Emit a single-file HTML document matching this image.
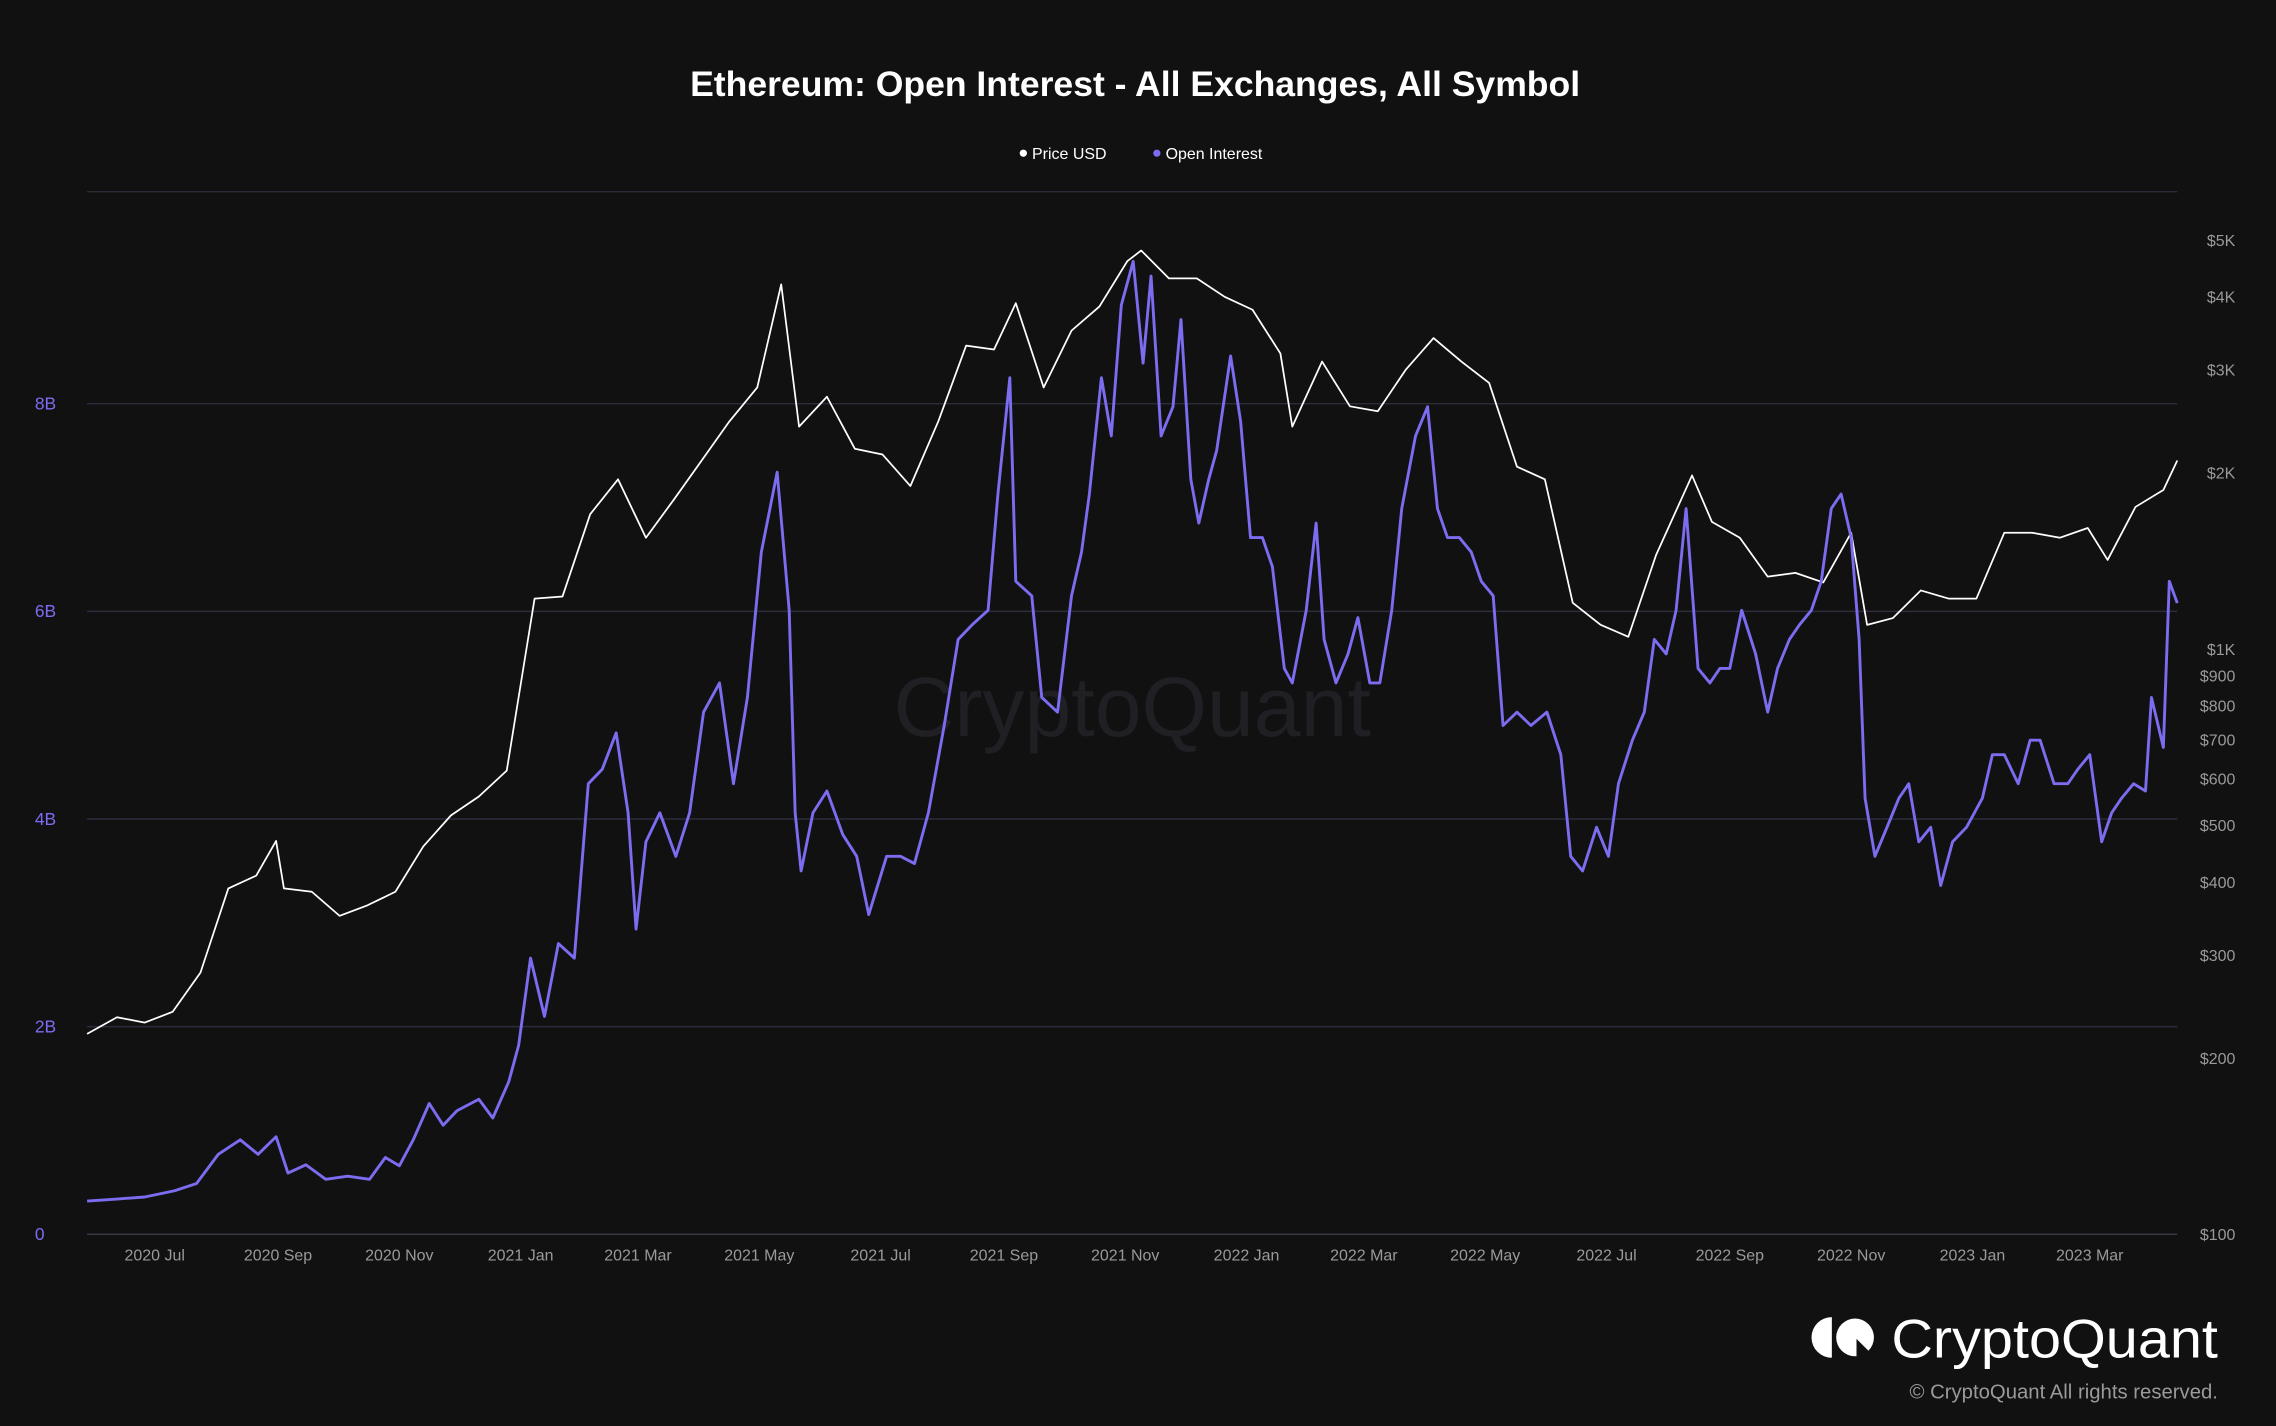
<!DOCTYPE html>
<html><head><meta charset="utf-8">
<style>
html,body{margin:0;padding:0;background:#111111;}
svg{display:block;}
text{font-family:"Liberation Sans",Arial,sans-serif;}
</style></head>
<body>
<svg id="chart" width="2276" height="1426" viewBox="0 0 1568 982" preserveAspectRatio="none" xmlns="http://www.w3.org/2000/svg">
<rect width="1568" height="982" fill="#111111"/>
<text x="782" y="66" text-anchor="middle" font-size="24.5" font-weight="bold" fill="#ffffff">Ethereum: Open Interest - All Exchanges, All Symbol</text>
<g>
  <g><circle cx="705" cy="105.5" r="2.5" fill="#ffffff"/><text x="711" y="109.5" font-size="11" fill="#ffffff">Price USD</text></g>
  <g><circle cx="797" cy="105.5" r="2.5" fill="#7b6cf0"/><text x="803" y="109.5" font-size="11" fill="#ffffff">Open Interest</text></g>
</g>
<text x="780" y="507" text-anchor="middle" font-size="58" fill="#1f1f24">CryptoQuant</text>
<g id="grid"></g>
<g id="axes"></g>
<g id="series"></g>
<g>
  <path d="M1262 907 A14 14 0 0 0 1262 935 Z" fill="#ffffff"/>
  <circle cx="1278" cy="921" r="13" fill="#ffffff"/>
  <path d="M1279 922 L1291 934 L1279 934 Z" fill="#111111"/>
  <text x="1303" y="935" font-size="38" textLength="225" lengthAdjust="spacingAndGlyphs" fill="#ffffff">CryptoQuant</text>
  <text x="1528" y="963" text-anchor="end" font-size="14" fill="#9a9a9a">© CryptoQuant All rights reserved.</text>
</g>
</svg>
<script>
// Days since 2020-05-28
const priceDays = [0,15,29,43,57,71,85,95,99,113,127,141,155,169,183,197,211,225,239,253,267,281,295,309,323,337,349,358,372,386,400,414,428,442,456,467,481,495,509,523,530,544,558,572,586,600,606,621,635,649,663,677,691,705,719,733,747,761,775,789,807,817,831,845,859,873,887,895,908,922,936,950,964,978,992,1006,1016,1030,1044,1051];
const priceValues = [220,235,230,240,280,390,410,470,390,385,350,365,385,460,520,560,620,1220,1230,1700,1950,1550,1800,2100,2450,2800,4200,2400,2700,2200,2150,1900,2450,3300,3250,3900,2800,3500,3850,4600,4800,4300,4300,4000,3800,3200,2400,3100,2600,2550,3000,3400,3100,2850,2050,1950,1200,1100,1050,1450,1980,1650,1550,1330,1350,1300,1580,1100,1130,1260,1220,1220,1580,1580,1550,1610,1420,1750,1870,2100];
const oiDays = [0,15,29,44,55,66,77,86,95,101,110,120,131,142,150,157,164,172,179,186,197,204,212,217,223,230,237,245,252,259,266,272,276,281,288,296,303,310,318,325,332,339,347,353,356,359,365,372,380,387,393,402,409,416,423,431,438,445,453,458,464,467,475,480,488,495,500,504,510,515,520,526,531,535,540,546,550,555,559,564,568,575,580,585,591,596,602,606,613,618,622,628,634,639,645,650,656,661,668,674,679,684,690,696,701,707,712,719,726,734,741,746,752,759,765,770,777,783,788,794,799,804,810,816,821,826,832,839,845,850,856,861,867,872,877,882,887,891,894,899,905,911,916,921,927,932,938,945,953,958,964,971,977,982,989,996,1001,1007,1013,1018,1023,1029,1035,1038,1044,1047,1051];
const oiValues = [0.32,0.34,0.36,0.42,0.49,0.77,0.91,0.77,0.94,0.59,0.67,0.53,0.56,0.53,0.74,0.66,0.91,1.26,1.05,1.19,1.30,1.12,1.47,1.82,2.66,2.10,2.80,2.66,4.34,4.48,4.83,4.06,2.94,3.78,4.06,3.64,4.06,5.03,5.31,4.34,5.17,6.57,7.34,6.01,4.06,3.50,4.06,4.27,3.85,3.64,3.08,3.64,3.64,3.57,4.06,4.90,5.73,5.87,6.01,7.13,8.25,6.29,6.15,5.17,5.03,6.15,6.57,7.13,8.25,7.69,8.95,9.37,8.39,9.23,7.69,7.97,8.81,7.27,6.85,7.27,7.55,8.46,7.83,6.71,6.71,6.43,5.45,5.31,6.01,6.85,5.73,5.31,5.59,5.94,5.31,5.31,6.01,6.99,7.69,7.97,6.99,6.71,6.71,6.57,6.29,6.15,4.90,5.03,4.90,5.03,4.62,3.64,3.50,3.92,3.64,4.34,4.76,5.03,5.73,5.59,6.01,6.99,5.45,5.31,5.45,5.45,6.01,5.59,5.03,5.45,5.73,5.87,6.01,6.29,6.99,7.13,6.71,5.73,4.20,3.64,3.92,4.20,4.34,3.78,3.92,3.36,3.78,3.92,4.20,4.62,4.62,4.34,4.76,4.76,4.34,4.34,4.48,4.62,3.78,4.06,4.20,4.34,4.27,5.17,4.69,6.29,6.08];
const oiTicks = [0,2,4,6,8];
const oiTickLabels = ["0","2B","4B","6B","8B"];
const priceTicks = [100,200,300,400,500,600,700,800,900,1000,2000,3000,4000,5000];
const priceTickLabels = ["$100","$200","$300","$400","$500","$600","$700","$800","$900","$1K","$2K","$3K","$4K","$5K"];
const xTickDays = [34,96,157,218,277,338,399,461,522,583,642,703,764,826,887,948,1007];
const xTickLabels = ["2020 Jul","2020 Sep","2020 Nov","2021 Jan","2021 Mar","2021 May","2021 Jul","2021 Sep","2021 Nov","2022 Jan","2022 Mar","2022 May","2022 Jul","2022 Sep","2022 Nov","2023 Jan","2023 Mar"];

const NS="http://www.w3.org/2000/svg";
const L=60,R=1500,B=850,T=132;
const xs=d=>L+d*(R-L)/1051;
const yOI=v=>B-v*71.5;
const yP=v=>B-Math.log10(v/100)*403;
function mk(tag,attrs,parent){const e=document.createElementNS(NS,tag);for(const k in attrs)e.setAttribute(k,attrs[k]);parent.appendChild(e);return e;}
const grid=document.getElementById('grid'),axes=document.getElementById('axes'),series=document.getElementById('series');
let gl=mk('line',{x1:L,x2:R,y1:T,y2:T,stroke:'#2c2c36','stroke-width':1},grid);


oiTicks.forEach((v,i)=>{
  const y=yOI(v);
  const g=mk('line',{x1:L,x2:R,y1:y,y2:y,stroke:i===0?'#3a3a48':'#2c2c3c','stroke-width':1},grid);
  
  
  const t=mk('text',{x:24,y:y+4,'font-size':12,fill:'#7b6cf0'},axes);
  t.textContent=oiTickLabels[i];
  
  
});
priceTicks.forEach((v,i)=>{
  const t=mk('text',{x:1540,y:yP(v)+4,'font-size':11,fill:'#9a9a9a','text-anchor':'end'},axes);
  t.textContent=priceTickLabels[i];
  
  
});
xTickDays.forEach((d,i)=>{
  const t=mk('text',{x:xs(d),y:868,'font-size':11,fill:'#9a9a9a','text-anchor':'middle'},axes);
  t.textContent=xTickLabels[i];
  
  
});
function pathFrom(days,vals,yf){return days.map((d,i)=>(i?'L':'M')+xs(d).toFixed(1)+' '+yf(vals[i]).toFixed(1)).join(' ');}
const pp=mk('path',{d:pathFrom(priceDays,priceValues,yP),fill:'none',stroke:'#ffffff','stroke-width':1.2,'stroke-linejoin':'round'},series);


const op=mk('path',{d:pathFrom(oiDays,oiValues,yOI),fill:'none',stroke:'#7b6cf0','stroke-width':2,'stroke-linejoin':'round'},series);


</script>
</body></html>
